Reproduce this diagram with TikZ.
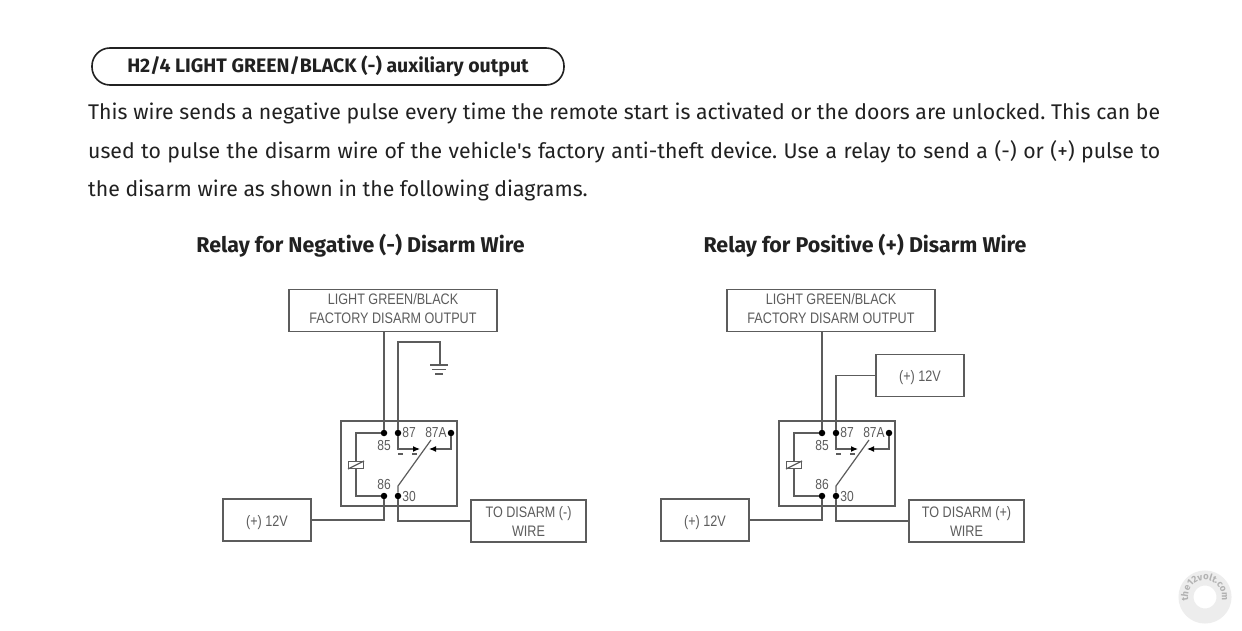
\documentclass[tikz,border=0pt]{standalone}
\usepackage{fontspec}
\setmainfont{Fira Sans}
\newfontfamily\wirefont[FakeStretch=0.83]{Liberation Sans}
\usetikzlibrary{positioning, calc, arrows.meta, decorations.text}
\definecolor{wiregray}{gray}{0.36}
\definecolor{inkdark}{gray}{0.13}
\newcommand{\liftline}[1]{\raisebox{5pt}{#1}}
\newcommand{\dropline}[1]{\raisebox{-6pt}[0pt][0pt]{#1}}
\tikzset{
    wire/.style={draw=wiregray, line width=1.2pt},
    tipwire/.style={draw=wiregray, line width=1.2pt, -{Latex[length=7pt, width=6pt, black]}},
    wirebox/.style={draw=wiregray, line width=1.2pt, minimum height=42pt, inner sep=0pt, align=center, text=wiregray, font=\wirefont\fontsize{15.2}{19}\selectfont},
    pin/.style={circle, fill=black, inner sep=0pt, minimum size=6.5pt},
    pinlabel/.style={text=wiregray, inner sep=0pt, font=\wirefont\fontsize{14.5}{15}\selectfont},
    heading/.style={text=inkdark, inner sep=0pt, font=\fontsize{21.4}{25}\selectfont\bfseries},
    relay/.pic={
        \node[draw=wiregray, line width=1.2pt, minimum width=116pt, minimum height=85pt, inner sep=0pt] (-case) at (58,42.5) {};
        \node[pin] (-85) at (43,12) {};
        \node[pin] (-87) at (57,12) {};
        \node[pin] (-87A) at (110,12) {};
        \node[pin] (-86) at (43,75) {};
        \node[pin] (-30) at (57,75) {};
        \node[pinlabel] (-l85) at (43,25) {85};
        \node[pinlabel] (-l87) at (68,12) {87};
        \node[pinlabel] (-l87A) at (95,11.5) {87A};
        \node[pinlabel] (-l86) at (43,64) {86};
        \node[pinlabel] (-l30) at (68,76) {30};
        \node[draw=wiregray, fill=white, line width=1pt, minimum width=15pt, minimum height=7pt, inner sep=0pt] (-coil) at (15,44) {};
        \draw[wire] (-coil.south west) -- (-coil.north east);
        \draw[wire] (-85) -| (-coil.north);
        \draw[wire] (-86) -| (-coil.south);
        \coordinate (-armtop) at (90,19);
        \coordinate (-armend) at (57,65);
        \draw[wire] (-30) -- (-armend) -- (-armtop);
        \coordinate (-nc) at (79,28);
        \coordinate (-no) at (88,28);
        \draw[tipwire] (-87) |- (-nc);
        \draw[tipwire] (-87A) |- (-no);
        \coordinate (-da) at (57,33);
        \coordinate (-db) at (62,33);
        \coordinate (-dc) at (71,33);
        \coordinate (-dd) at (76,33);
        \draw[wire] (-da) -- (-db);
        \draw[wire] (-dc) -- (-dd);
    }
}
\begin{document}
\begin{tikzpicture}[x=1pt, y=-1pt]
        \useasboundingbox[fill=white] (0,0) rectangle (1242,631);

        \node[draw=inkdark, line width=1.6pt, rounded corners=18pt, minimum width=472pt, minimum height=37pt, inner sep=0pt, text=inkdark, font=\fontsize{19.5}{24}\selectfont\bfseries] (title) at (328,66.5) {H2/4 LIGHT GREEN/BLACK (-) auxiliary output};
        \node[anchor=north west, inner sep=0pt, text width=1072pt, align=justify, text=inkdark, font=\fontsize{21.25}{38.5}\selectfont] (body) at (88,103) {\frenchspacing This wire sends a negative pulse every time the remote start is activated or the doors are unlocked. This can be\linebreak used to pulse the disarm wire of the vehicle\textquotesingle s factory anti-theft device. Use a relay to send a (-) or (+) pulse to\linebreak the disarm wire as shown in the following diagrams.};

        \node[heading] (negtitle) at (360.5,246) {Relay for Negative (-) Disarm Wire};
        \node[heading] (postitle) at (865,246) {Relay for Positive (+) Disarm Wire};

        \pic (neg) at (341,421) {relay};
        \node[wirebox, minimum width=208pt] (negfactory) at (393,310.5) {\liftline{LIGHT GREEN/BLACK}\\\liftline{FACTORY DISARM OUTPUT}};
        \node[wirebox, minimum width=88pt] (negpower) at (267,520) {\dropline{(+) 12V}};
        \node[wirebox, minimum width=115pt] (negdisarm) at (528.5,521) {TO DISARM (-)\\WIRE};
        \coordinate (gnd) at (440,365);
        \draw[wire] (neg-85) -- (neg-85 |- negfactory.south);
        \draw[wire] (neg-87) -- (398,342) -| (gnd);
        \draw[wire] (430,365) -- (448,365);
        \draw[wire] (432,369.5) -- (446,369.5);
        \draw[wire] (435,374) -- (443,374);
        \draw[wire] (neg-86) |- (negpower.east);
        \draw[wire] (neg-30) |- (negdisarm.west);

        \pic (pos) at (779,421) {relay};
        \node[wirebox, minimum width=208pt] (posfactory) at (831,310.5) {\liftline{LIGHT GREEN/BLACK}\\\liftline{FACTORY DISARM OUTPUT}};
        \node[wirebox, minimum width=88pt] (pospower) at (705,520) {\dropline{(+) 12V}};
        \node[wirebox, minimum width=115pt] (posdisarm) at (966.5,521) {TO DISARM (+)\\WIRE};
        \node[wirebox, minimum width=88pt] (possupply) at (920,375.5) {\dropline{(+) 12V}};
        \draw[wire] (pos-85) -- (pos-85 |- posfactory.south);
        \draw[wire] (pos-87) |- (possupply.west);
        \draw[wire] (pos-86) |- (pospower.east);
        \draw[wire] (pos-30) |- (posdisarm.west);

        \draw[gray!14, line width=15pt] (1205,597) circle (19);
        \path[postaction={decorate, decoration={text along path, text align=center, text={|\fontsize{9.5}{12}\selectfont\bfseries\color{gray!60}|the12volt.com}}}] (1196.5,611.7) arc[start angle=120, end angle=420, radius=17];
    \end{tikzpicture}
\end{document}
